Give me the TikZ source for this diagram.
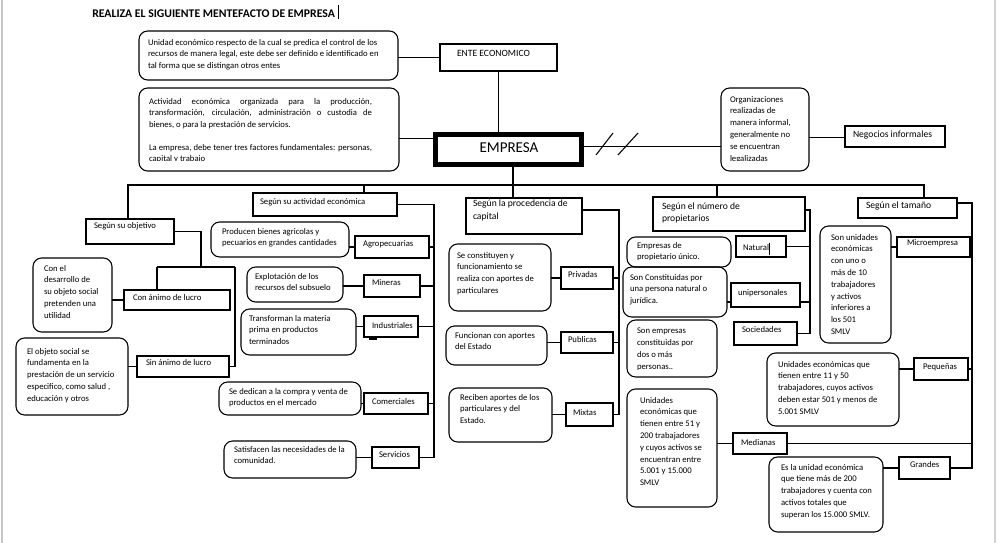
\documentclass[tikz,border=0pt]{standalone}
\usepackage{fontspec}
\setmainfont{Carlito}
\tikzset{
  bx/.style={draw=black, line width=0.8pt, inner sep=0pt, outer sep=0pt},
  rbx/.style={bx, rounded corners=6.5pt},
  ln/.style={draw=black, line width=0.8pt},
  txt/.style={font=\fontsize{6.5}{8.85}\selectfont, align=left, inner sep=0pt, outer sep=0pt, anchor=north west, execute at begin node={\rule{0pt}{5.2pt}}},
  txtL/.style={font=\fontsize{7.2}{9.4}\selectfont, align=left, inner sep=0pt, outer sep=0pt, anchor=north west, execute at begin node={\rule{0pt}{5.8pt}}},
  slashln/.style={draw=black, line width=0.8pt}
}
\newcommand\mkbox[6][bx]{\node[#1, minimum width={(#5-#3)*0.75pt}, minimum height={(#6-#4)*0.75pt}] (#2) at ({(#3+#5)/2},{(#4+#6)/2}) {};}
\newcommand\mktext[5][]{\node[txt,#1] (#2) at (#3,{#4-4.93}) {#5};}
\newcommand\mktextL[5][]{\node[txtL,#1] (#2) at (#3,{#4-5.5}) {#5};}
\begin{document}
\begin{tikzpicture}[x=0.75pt,y=-0.75pt]
\useasboundingbox (0,0) rectangle (1001,543);
\fill[white] (0,0) rectangle (1001,543);
\draw[gray!45, line width=1.5pt] (2,0) -- (2,543);
\draw[gray!35, line width=1pt] (995,0) -- (995,543);

% ---------- boxes ----------
\mkbox[rbx]{u1}{139}{31}{398}{80}
\mkbox{ente}{440}{44}{557}{71}
\mkbox[rbx]{u2}{139}{88}{399}{171}
\mkbox[bx, line width=3.4pt]{emp}{435.25}{134.25}{581.75}{164.75}
\mkbox[rbx]{org}{721}{88}{809}{171}
\mkbox{neg}{845}{126}{945}{147}

\mkbox{obj}{86}{219}{174}{244}
\mkbox{con}{124}{290}{230}{310}
\mkbox[rbx]{conD}{33}{258}{112}{332}
\mkbox{sin}{137}{356}{229}{377}
\mkbox[rbx]{sinD}{16}{338}{128}{415}

\mkbox{act}{253}{193}{397}{216}
\mkbox{agro}{355}{236}{429}{258}
\mkbox[rbx]{agroD}{211}{222}{349}{257}
\mkbox{min}{364}{275}{420}{297}
\mkbox[rbx]{minD}{247}{267}{343}{302}
\mkbox{ind}{364}{316}{418}{337}
\mkbox[rbx]{indD}{241}{309}{356}{355}
\mkbox{com}{364}{393}{428}{414}
\mkbox[rbx]{comD}{219}{382}{361}{415}
\mkbox{ser}{372}{447}{419}{468}
\mkbox[rbx]{serD}{224}{441}{356}{478}

\mkbox{proc}{466}{198}{582}{234}
\mkbox{priv}{561}{267}{613}{289}
\mkbox[rbx]{privD}{449}{244}{551}{311}
\mkbox{pub}{561}{332}{613}{353}
\mkbox[rbx]{pubD}{446}{326}{547}{365}
\mkbox{mix}{566}{403}{613}{426}
\mkbox[rbx]{mixD}{449}{388}{552}{442}

\mkbox{num}{653}{197}{805}{231}
\mkbox{nat}{736}{236}{786}{257}
\mkbox[rbx]{natD}{627}{237}{731}{267}
\mkbox{uni}{731}{283}{800}{307}
\mkbox[rbx]{uniD}{623}{267}{727}{317}
\mkbox{soc}{734}{322}{797}{345}
\mkbox[rbx]{socD}{627}{320}{717}{377}

\mkbox{tam}{858}{198}{957}{218}
\mkbox{mic}{897}{237}{970}{257}
\mkbox[rbx]{micD}{820}{226}{891}{343}
\mkbox{peq}{914}{358}{968}{380}
\mkbox[rbx]{peqD}{767}{353}{899}{426}
\mkbox{med}{733}{433}{787}{454}
\mkbox[rbx]{medD}{627}{389}{717}{507}
\mkbox{gra}{899}{457}{950}{479}
\mkbox[rbx]{graD}{769}{457}{883}{532}

% ---------- junction coordinates ----------
\coordinate (jE) at (513,185);
\coordinate (barL) at (128,185);
\coordinate (barR) at (924,185);
\coordinate (jA) at (364,185);
\coordinate (jN) at (717,185);
\coordinate (sObj) at (201,267);
\coordinate (sObjL) at (157,267);
\coordinate (sObjR) at (235,267);
\coordinate (sA) at (434,200);
\coordinate (sP) at (619,200);
\coordinate (sN) at (810,200);
\coordinate (sT) at (972,200);

% ---------- connectors: top ----------
\draw[ln] (ente.west) -- (ente.west -| u1.east);
\draw[ln] (ente.south) -- (ente.south |- emp.north);
\draw[ln] ([yshift=8.6pt]emp.west) -- ([yshift=8.6pt]emp.west -| u2.east);
\draw[ln] ([yshift=2.6pt]emp.east) -- ([yshift=2.6pt]emp.east -| org.west);
\draw[slashln] (596,155) -- (613,133);
\draw[slashln] (618,155) -- (638,133);
\draw[ln] ([yshift=-0.4pt]neg.west) -- ([yshift=-0.4pt]neg.west -| org.east);

% ---------- main bar ----------
\draw[ln] (emp.south -| jE) -- (jE);
\draw[ln] (obj.north -| barL) -- (barL) -- (barR) -- (tam.north -| barR);
\draw[ln] (jA) -- (act.north -| jA);
\draw[ln] (jE) -- (proc.north -| jE);
\draw[ln] (jN) -- (num.north -| jN);

% ---------- objetivo ----------
\draw[ln] (obj.east) -| (sObj);
\draw[ln] (sObjL) -- (sObjR);
\draw[ln] (sObjL) -- (con.north -| sObjL);
\draw[ln] (sObjR) |- (sin.east);
\draw[ln] (con.west) -- (con.west -| conD.east);
\draw[ln] (sin.west) -- (sin.west -| sinD.east);

% ---------- actividad ----------
\draw[ln] (act.east) -- (act.east -| sA) -- (ser.east -| sA) -- (ser.east);
\foreach \n in {agro,min,ind,com}{\draw[ln] (\n.east) -- (\n.east -| sA);}
\foreach \n in {agro,min,ind,com,ser}{\draw[ln] (\n.west) -- (\n.west -| \n D.east);}
\draw[slashln] (369,339) -- (377,339);

% ---------- procedencia ----------
\draw[ln] ([yshift=4.5pt]proc.east) -- ([yshift=4.5pt]proc.east -| sP) -- (mix.east -| sP) -- (mix.east);
\foreach \n in {priv,pub}{\draw[ln] (\n.east) -- (\n.east -| sP);}
\foreach \n in {priv,pub,mix}{\draw[ln] (\n.west) -- (\n.west -| \n D.east);}

% ---------- propietarios ----------
\draw[ln] ([yshift=3pt]num.east) -- ([yshift=3pt]num.east -| sN) -- (soc.east -| sN) -- (soc.east);
\draw[ln] (nat.east) -- (nat.east -| sN);
\draw[ln] ([yshift=-5.25pt]uni.east) -- ([yshift=-5.25pt]uni.east -| sN);
\draw[ln] ([yshift=-5.25pt]uni.west) -- ([yshift=-5.25pt]uni.west -| uniD.east);

% ---------- tamano ----------
\draw[ln] ([yshift=3.75pt]tam.east) -- ([yshift=3.75pt]tam.east -| sT) -- (gra.east -| sT) -- (gra.east);
\foreach \n in {mic,peq,med}{\draw[ln] (\n.east) -- (\n.east -| sT);}
\foreach \n in {mic,peq,med,gra}{\draw[ln] (\n.west) -- (\n.west -| \n D.east);}

% ---------- texts ----------
\node[font=\bfseries\fontsize{8.8}{10}\selectfont, anchor=base west, inner sep=0pt] (title) at (92,17) {REALIZA EL SIGUIENTE MENTEFACTO DE EMPRESA};
\draw[line width=0.6pt] (338,5) -- (338,19);

\mktext{t-u1}{148}{44}{Unidad  económico respecto de la cual  se predica el control de los\\recursos de manera legal, este debe ser definido  e identificado en\\tal forma  que se distingan otros entes}
\mktextL{t-ente}{457}{54}{ENTE ECONOMICO}
\mktext[text width=167.25pt, align=justify]{t-u2a}{149}{102}{Actividad económica organizada para la producción,\linebreak transformación, circulación, administración o custodia de\linebreak bienes, o para la prestación de servicios.}
\begin{scope}
\clip (140,140) rectangle (398,160.6);
\mktext[text width=167.25pt, align=justify]{t-u2b}{149}{148}{La empresa, debe tener tres factores fundamentales: personas,\linebreak capital y trabajo}
\end{scope}
\node[font=\fontsize{11.3}{13}\selectfont, inner sep=0pt] (t-emp) at (509,148) {EMPRESA};
\begin{scope}
\clip (722,90) rectangle (807,160.5);
\mktext{t-org}{730}{101}{Organizaciones\\realizadas de\\manera informal,\\generalmente no\\se encuentran\\legalizadas}
\end{scope}
\mktextL{t-neg}{853}{135}{Negocios informales}

\mktext{t-obj}{94}{226}{Según su objetivo}
\mktext{t-con}{133}{298}{Con ánimo de lucro}
\mktext{t-conD}{44}{270}{Con el\\desarrollo de\\su objeto social\\pretenden una\\utilidad}
\mktext{t-sin}{146}{363}{Sin ánimo de lucro}
\mktext{t-sinD}{27}{353}{El objeto social se\\fundamenta en la\\prestación de un servicio\\especifico, como salud ,\\educación y otros}

\mktext{t-act}{260}{202}{Según su actividad  económica}
\mktext{t-agro}{363}{244}{Agropecuarias}
\mktext{t-agroD}{222}{233}{Producen  bienes agricolas  y\\pecuarios en grandes cantidades}
\mktext{t-min}{372}{283}{Mineras}
\mktext{t-minD}{255}{278}{Explotación de los\\recursos del subsuelo}
\mktext{t-ind}{372}{326}{Industriales}
\mktext{t-indD}{249}{320}{Transforman la materia\\prima en productos\\terminados}
\mktext{t-com}{372}{402}{Comerciales}
\mktext{t-comD}{229}{393}{Se dedican a la compra y venta de\\productos en el mercado}
\mktext{t-ser}{379}{455}{Servicios}
\mktext{t-serD}{234}{451}{Satisfacen las necesidades de la\\comunidad.}

\mktextL[font=\fontsize{7.2}{9.75}\selectfont]{t-proc}{473}{205}{Según la procedencia de\\capital}
\mktext{t-priv}{568}{275}{Privadas}
\mktext{t-privD}{457}{257}{Se constituyen  y\\funcionamiento se\\realiza con aportes de\\particulares}
\mktext{t-pub}{568}{340}{Publicas}
\mktext{t-pubD}{455}{337}{Funcionan con aportes\\del Estado}
\mktext{t-mix}{573}{413}{Mixtas}
\mktext{t-mixD}{460}{399}{Reciben aportes de los\\particulares y del\\Estado.}

\mktextL{t-num}{662}{208}{Según el número de\\propietarios}
\mktext{t-nat}{743}{248}{Natural}
\draw[line width=0.5pt] (769,243) -- (769,255);
\begin{scope}
\clip (629,239) rectangle (729,259.6);
\mktext{t-natD}{637}{247}{Empresas de\\propietario único.}
\end{scope}
\mktext{t-uni}{738}{293}{unipersonales}
\mktext{t-uniD}{630}{279}{Son Constituidas por\\una persona natural  o\\jurídica.}
\mktext{t-soc}{742}{330}{Sociedades}
\begin{scope}
\clip (629,322) rectangle (715,369.2);
\mktext{t-socD}{637}{333}{Son empresas\\constituidas por\\dos o más\\personas..}
\end{scope}

\mktextL{t-tam}{866}{206}{Según el tamaño}
\mktext{t-mic}{907}{243}{Microempresa}
\begin{scope}
\clip (822,228) rectangle (889,334.6);
\mktext{t-micD}{831}{239}{Son unidades\\económicas\\con uno o\\más de 10\\trabajadores\\y  activos\\inferiores  a\\los 501\\SMLV}
\end{scope}
\mktext{t-peq}{923}{367}{Pequeñas}
\mktext{t-peqD}{778}{366}{Unidades económicas que\\tienen entre 11 y 50\\trabajadores, cuyos activos\\deben estar 501  y menos de\\5.001 SMLV}
\mktext{t-med}{741}{443}{Medianas}
\mktext{t-medD}{640}{402}{Unidades\\económicas que\\tienen entre 51 y\\200 trabajadores\\y cuyos activos se\\encuentran entre\\5.001 y 15.000\\SMLV}
\mktext{t-gra}{910}{465}{Grandes}
\mktext{t-graD}{781}{469}{Es la unidad económica\\que tiene más de 200\\trabajadores y cuenta con\\activos totales que\\superan los 15.000 SMLV.}
\end{tikzpicture}
\end{document}
